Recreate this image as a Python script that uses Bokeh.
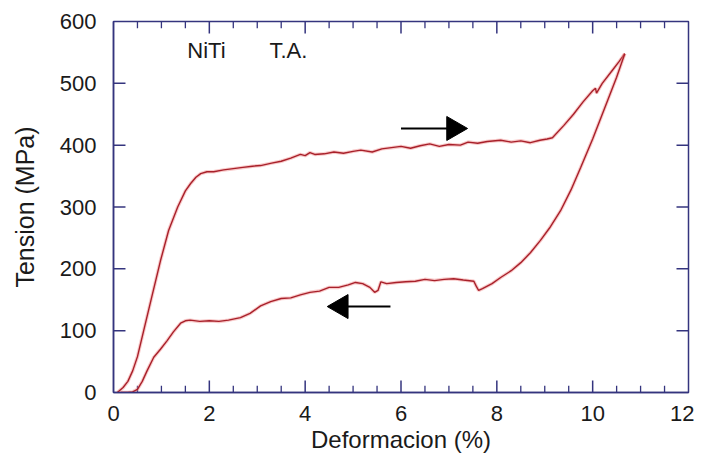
import math
from bokeh.plotting import figure
from bokeh.models import SingleIntervalTicker, Range1d, Label
from bokeh.embed import file_html
from bokeh.resources import INLINE

# ---- data ----
load_x = [0.08, 0.2, 0.3, 0.4, 0.5, 0.63, 0.8, 0.98, 1.15, 1.34, 1.5, 1.61,
          1.72, 1.82, 1.95, 2.09, 2.3, 2.5, 2.7, 2.9, 3.07, 3.3, 3.5, 3.7,
          3.9, 4.0, 4.1, 4.2, 4.4, 4.6, 4.8, 5.0, 5.16, 5.4, 5.6, 5.8, 6.0,
          6.2, 6.4, 6.6, 6.8, 7.0, 7.24, 7.4, 7.6, 7.8, 8.08, 8.3, 8.5, 8.7,
          8.9, 9.05, 9.16, 9.4, 9.6, 9.8, 10.0, 10.06, 10.08, 10.2, 10.4,
          10.55, 10.67]
load_y = [0, 8, 18, 35, 58, 100, 155, 213, 262, 300, 326, 338,
          348, 354, 357, 357, 360, 362, 364, 366, 367, 371, 374, 379,
          385, 383, 388, 385, 386, 389, 387, 390, 392, 389, 394, 396, 398,
          395, 399, 402, 398, 401, 400, 405, 403, 406, 408, 405, 407, 404,
          408, 410, 412, 432, 450, 470, 488, 492, 484, 500, 520,
          535, 548]

unload_x = [10.67, 10.5, 10.31, 10.0, 9.75, 9.55, 9.33, 9.1, 8.91, 8.7, 8.5,
            8.3, 8.08, 7.9, 7.7, 7.62, 7.57, 7.52, 7.3, 7.1, 6.9, 6.7, 6.5,
            6.3, 6.1, 5.9, 5.7, 5.58, 5.52, 5.45, 5.35, 5.2, 5.05, 4.9, 4.7,
            4.5, 4.3, 4.1, 3.9, 3.7, 3.5, 3.28, 3.07, 2.85, 2.65, 2.4, 2.2,
            2.0, 1.8, 1.6, 1.5, 1.4, 1.25, 1.12, 0.98, 0.84, 0.7, 0.6, 0.5,
            0.4, 0.3, 0.15]
unload_y = [548, 510, 472, 410, 364, 328, 294, 266, 246, 226, 210,
            197, 186, 176, 168, 165, 172, 180, 182, 184, 183, 181, 183,
            180, 179, 178, 176, 179, 165, 162, 170, 176, 178, 174, 170,
            170, 164, 162, 158, 153, 152, 147, 140, 128, 121, 117, 115,
            116, 115, 117, 116, 112, 98, 84, 70, 57, 35, 18, 5,
            1, 0, 0]

labels_text = ["NiTi", "T.A."]
labels_x = [1.94, 3.65]
labels_y = [553, 553]

arrows_x0 = [6.0, 5.78]
arrows_x1 = [7.35, 4.5]
arrows_y = [427, 139]

# inner tick positions (the ones on the frame corners coincide with the frame)
x_major_inner = [2, 4, 6, 8, 10]
x_minor = [0.5, 1, 1.5, 2.5, 3, 3.5, 4.5, 5, 5.5, 6.5, 7, 7.5, 8.5, 9, 9.5,
           10.5, 11, 11.5]
y_major_inner = [100, 200, 300, 400, 500]
x_lim = [0, 12]
y_lim = [0, 600]

x_label = "Deformacion (%)"
y_label = "Tension (MPa)"

FONT = "Liberation Sans"
FRAME = "#34347e"
RED = "#a8202a"

# tick lengths in data units (about 12 px major, 7 px minor)
TY_MAJ, TY_MIN = 19.5, 11.0   # vertical ticks on x edges (MPa)
TX_MAJ = 0.25                 # horizontal ticks on y edges (%)
EPS_Y, EPS_X = 0.01, 0.0005   # keep tick ends just inside the upper limits
HEAD_OFF = 0.25               # arrow-head centre back from its tip (%)

p = figure(width=694, height=456, output_backend="svg", toolbar_location=None,
           x_range=Range1d(*x_lim), y_range=Range1d(*y_lim),
           min_border_left=113, min_border_right=6, min_border_top=21,
           min_border_bottom=64)
p.grid.visible = False
p.outline_line_color = FRAME
p.outline_line_width = 1.5

for ax in (p.xaxis[0], p.yaxis[0]):
    ax.axis_line_color = FRAME
    ax.axis_line_width = 1.5
    ax.major_tick_line_color = None
    ax.minor_tick_line_color = None
    ax.major_tick_in = 0
    ax.major_tick_out = 0
    ax.minor_tick_in = 0
    ax.minor_tick_out = 0
    ax.major_label_text_font = FONT
    ax.major_label_text_font_size = "22px"
    ax.major_label_text_color = "#1a1a1a"
    ax.axis_label_text_font = FONT
    ax.axis_label_text_font_style = "normal"
    ax.axis_label_text_color = "#1a1a1a"

xb = p.xaxis[0]
xb.ticker = SingleIntervalTicker(interval=2, num_minor_ticks=4)
xb.axis_label = x_label
xb.axis_label_text_font_size = "24px"
xb.major_label_standoff = 13
xb.axis_label_standoff = 2

yl = p.yaxis[0]
yl.ticker = SingleIntervalTicker(interval=100, num_minor_ticks=0)
yl.axis_label = y_label
yl.axis_label_text_font_size = "25px"
yl.major_label_standoff = 17
yl.axis_label_standoff = 18

ymin, ymax = y_lim[0], y_lim[1] - EPS_Y
xmin, xmax = x_lim[0], x_lim[1] - EPS_X

# bottom ticks
p.segment(x0=x_major_inner, x1=x_major_inner,
          y0=[ymin] * len(x_major_inner), y1=[ymin + TY_MAJ] * len(x_major_inner),
          line_color=FRAME, line_width=1.5)
p.segment(x0=x_minor, x1=x_minor,
          y0=[ymin] * len(x_minor), y1=[ymin + TY_MIN] * len(x_minor),
          line_color=FRAME, line_width=1.3)
# top ticks
p.segment(x0=x_major_inner, x1=x_major_inner,
          y0=[ymax] * len(x_major_inner), y1=[ymax - TY_MAJ] * len(x_major_inner),
          line_color=FRAME, line_width=1.5)
p.segment(x0=x_minor, x1=x_minor,
          y0=[ymax] * len(x_minor), y1=[ymax - TY_MIN] * len(x_minor),
          line_color=FRAME, line_width=1.3)
# left ticks
p.segment(x0=[xmin] * len(y_major_inner), x1=[xmin + TX_MAJ] * len(y_major_inner),
          y0=y_major_inner, y1=y_major_inner, line_color=FRAME, line_width=1.5)
# right ticks
p.segment(x0=[xmax] * len(y_major_inner), x1=[xmax - TX_MAJ] * len(y_major_inner),
          y0=y_major_inner, y1=y_major_inner, line_color=FRAME, line_width=1.5)

# halo + core line
for xs, ys in [(load_x, load_y), (unload_x, unload_y)]:
    p.line(xs, ys, line_color="#f08a8a", line_width=3.5, line_alpha=0.45)
    p.line(xs, ys, line_color=RED, line_width=1.4)

for t, lx, ly in zip(labels_text, labels_x, labels_y):
    p.add_layout(Label(x=lx, y=ly, text=t, text_font=FONT,
                       text_font_size="22px", text_color="#1a1a1a",
                       text_align="center", text_baseline="middle"))

# direction arrows: shaft + triangular head
hx, hy, ha, sx0, sx1 = [], [], [], [], []
for x0, x1, yy in zip(arrows_x0, arrows_x1, arrows_y):
    d = 1 if x1 > x0 else -1
    hx.append(x1 - d * HEAD_OFF)
    hy.append(yy)
    ha.append(-math.pi / 2 if d > 0 else math.pi / 2)
    sx0.append(x0)
    sx1.append(x1 - d * HEAD_OFF)
p.segment(x0=sx0, y0=arrows_y, x1=sx1, y1=arrows_y, line_color="black",
          line_width=2)
p.scatter(x=hx, y=hy, angle=ha, marker="triangle", size=24,
          fill_color="black", line_color="black")

open("out.html", "w").write(file_html(p, INLINE))
